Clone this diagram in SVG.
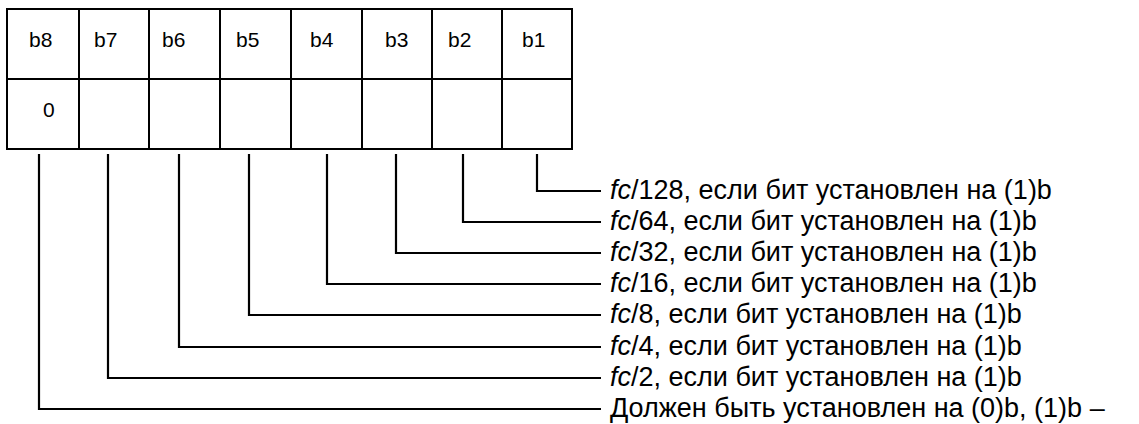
<svg xmlns="http://www.w3.org/2000/svg" width="1139" height="424" viewBox="0 0 1139 424">
<style>
.cell{fill:#fff;stroke:#000;stroke-width:2}
.hd{font-family:"Liberation Sans",Arial,sans-serif;font-size:21px;fill:#000}
.lb{font-family:"Liberation Sans",Arial,sans-serif;font-size:27px;fill:#000}
.it{font-style:italic}
.conn{fill:none;stroke:#000;stroke-width:2.2}
</style>
<rect width="1139" height="424" fill="#fff"/>
<g id="table">
<g id="b8"><rect class="cell" x="7" y="9" width="72" height="70"/><rect class="cell" x="7" y="79" width="72" height="70"/><text class="hd" x="29" y="47">b8</text><text class="hd" x="43" y="117">0</text></g>
<g id="b7"><rect class="cell" x="79" y="9" width="70" height="70"/><rect class="cell" x="79" y="79" width="70" height="70"/><text class="hd" x="94" y="47">b7</text></g>
<g id="b6"><rect class="cell" x="149" y="9" width="71" height="70"/><rect class="cell" x="149" y="79" width="71" height="70"/><text class="hd" x="162" y="47">b6</text></g>
<g id="b5"><rect class="cell" x="220" y="9" width="71" height="70"/><rect class="cell" x="220" y="79" width="71" height="70"/><text class="hd" x="236" y="47">b5</text></g>
<g id="b4"><rect class="cell" x="291" y="9" width="71" height="70"/><rect class="cell" x="291" y="79" width="71" height="70"/><text class="hd" x="310" y="47">b4</text></g>
<g id="b3"><rect class="cell" x="362" y="9" width="70" height="70"/><rect class="cell" x="362" y="79" width="70" height="70"/><text class="hd" x="385" y="47">b3</text></g>
<g id="b2"><rect class="cell" x="432" y="9" width="70" height="70"/><rect class="cell" x="432" y="79" width="70" height="70"/><text class="hd" x="448" y="47">b2</text></g>
<g id="b1"><rect class="cell" x="502" y="9" width="70" height="70"/><rect class="cell" x="502" y="79" width="70" height="70"/><text class="hd" x="522" y="47">b1</text></g>
</g>
<g id="connectors">
<polyline class="conn" points="537,154 537,191 601,191"/>
<polyline class="conn" points="463,154 463,222 601,222"/>
<polyline class="conn" points="396,154 396,253 601,253"/>
<polyline class="conn" points="327,154 327,284 601,284"/>
<polyline class="conn" points="249,154 249,315 601,315"/>
<polyline class="conn" points="179,154 179,347 601,347"/>
<polyline class="conn" points="108,154 108,378 601,378"/>
<polyline class="conn" points="39,154 39,409 601,409"/>
</g>
<g id="labels">
<text class="lb" x="610" y="199"><tspan class="it">fc</tspan>/128, если бит установлен на (1)b</text>
<text class="lb" x="610" y="230"><tspan class="it">fc</tspan>/64, если бит установлен на (1)b</text>
<text class="lb" x="610" y="261"><tspan class="it">fc</tspan>/32, если бит установлен на (1)b</text>
<text class="lb" x="610" y="292"><tspan class="it">fc</tspan>/16, если бит установлен на (1)b</text>
<text class="lb" x="610" y="323"><tspan class="it">fc</tspan>/8, если бит установлен на (1)b</text>
<text class="lb" x="610" y="355"><tspan class="it">fc</tspan>/4, если бит установлен на (1)b</text>
<text class="lb" x="610" y="386"><tspan class="it">fc</tspan>/2, если бит установлен на (1)b</text>
<text class="lb" x="610" y="417">Должен быть установлен на (0)b, (1)b –</text>
</g>
</svg>
